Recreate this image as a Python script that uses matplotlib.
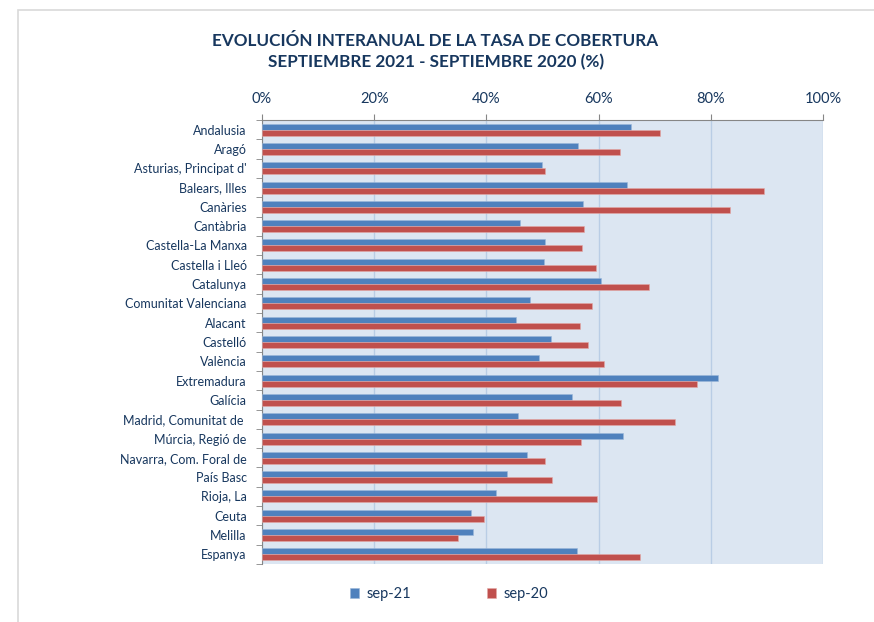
import numpy as np
import matplotlib.pyplot as plt
import matplotlib.patches as patches
from matplotlib.ticker import FuncFormatter

plt.rcParams['font.family'] = ['Lato', 'DejaVu Sans']

regions = ["Andalusia", "Aragó", "Asturias, Principat d'", "Balears, Illes", "Canàries",
           "Cantàbria", "Castella-La Manxa", "Castella i Lleó", "Catalunya",
           "Comunitat Valenciana", "Alacant", "Castelló", "València", "Extremadura",
           "Galícia", "Madrid, Comunitat de ", "Múrcia, Regió de", "Navarra, Com. Foral de",
           "País Basc", "Rioja, La", "Ceuta", "Melilla", "Espanya"]
sep21 = [65.7, 56.4, 49.9, 65.0, 57.2, 46.0, 50.4, 50.2, 60.4, 47.8, 45.2, 51.6,
         49.3, 81.3, 55.2, 45.7, 64.4, 47.3, 43.6, 41.8, 37.2, 37.7, 56.2]
sep20 = [71.0, 63.9, 50.4, 89.5, 83.5, 57.4, 57.1, 59.6, 68.9, 58.9, 56.7, 58.1,
         61.0, 77.6, 64.0, 73.7, 56.8, 50.4, 51.7, 59.7, 39.6, 35.0, 67.3]

txt = '#17375E'
blue = '#4F81BD'
red = '#C0504D'

fig = plt.figure(figsize=(8.74, 6.22), dpi=100)
# outer chart frame
fig.patches.append(patches.Rectangle((18 / 874, -0.1), 1.0, 1 - 10 / 622 + 0.1,
                                     transform=fig.transFigure, fill=False,
                                     edgecolor='#D9D9D9', linewidth=1.2))

ax = fig.add_axes([262 / 874, 1 - 564 / 622, (823 - 262) / 874, (564 - 120) / 622])
ax.set_facecolor('#DCE6F2')

y = np.arange(len(regions))
h = 0.31
ax.barh(y - h / 2, sep21, height=h, color=blue, edgecolor='#9BB7D9', linewidth=0.4,
        label='sep-21', zorder=3)
ax.barh(y + h / 2, sep20, height=h, color=red, edgecolor='#E3A9A7', linewidth=0.4,
        label='sep-20', zorder=3)

ax.set_xlim(0, 100)
ax.set_ylim(len(regions) - 0.5, -0.5)
ax.xaxis.tick_top()
ax.set_xticks(np.arange(0, 101, 20))
ax.xaxis.set_major_formatter(FuncFormatter(lambda v, p: f"{v:.0f}%"))
ax.tick_params(axis='x', direction='out', length=4, color='#868686', labelsize=10.5,
               labelcolor=txt, pad=6)
ax.set_yticks(y)
ax.set_yticklabels(regions)
ax.set_yticks(np.arange(len(regions) + 1) - 0.5, minor=True)
ax.tick_params(axis='y', which='major', length=0, labelsize=9, labelcolor=txt, pad=11)
ax.tick_params(axis='y', which='minor', direction='out', length=4, color='#868686')
ax.grid(axis='x', color='#B9CDE5', linewidth=1.0, zorder=0)
ax.set_axisbelow(True)
for s in ['bottom', 'right']:
    ax.spines[s].set_visible(False)
for s in ['top', 'left']:
    ax.spines[s].set_color('#868686')

fig.text(435 / 874, 1 - 41 / 622, "EVOLUCIÓN INTERANUAL DE LA TASA DE COBERTURA",
         ha='center', va='center', fontsize=12.3, fontweight='bold', color=txt)
fig.text(436 / 874, 1 - 62 / 622, "SEPTIEMBRE 2021 - SEPTIEMBRE 2020 (%)",
         ha='center', va='center', fontsize=12.3, fontweight='bold', color=txt)

fig.legend(loc='center', bbox_to_anchor=(449 / 874, 1 - 594 / 622), ncol=2,
           frameon=False, fontsize=10.5, labelcolor=txt, handlelength=0.65,
           handleheight=0.65, columnspacing=5.2, handletextpad=0.5)

plt.savefig('out.png', dpi=100)
